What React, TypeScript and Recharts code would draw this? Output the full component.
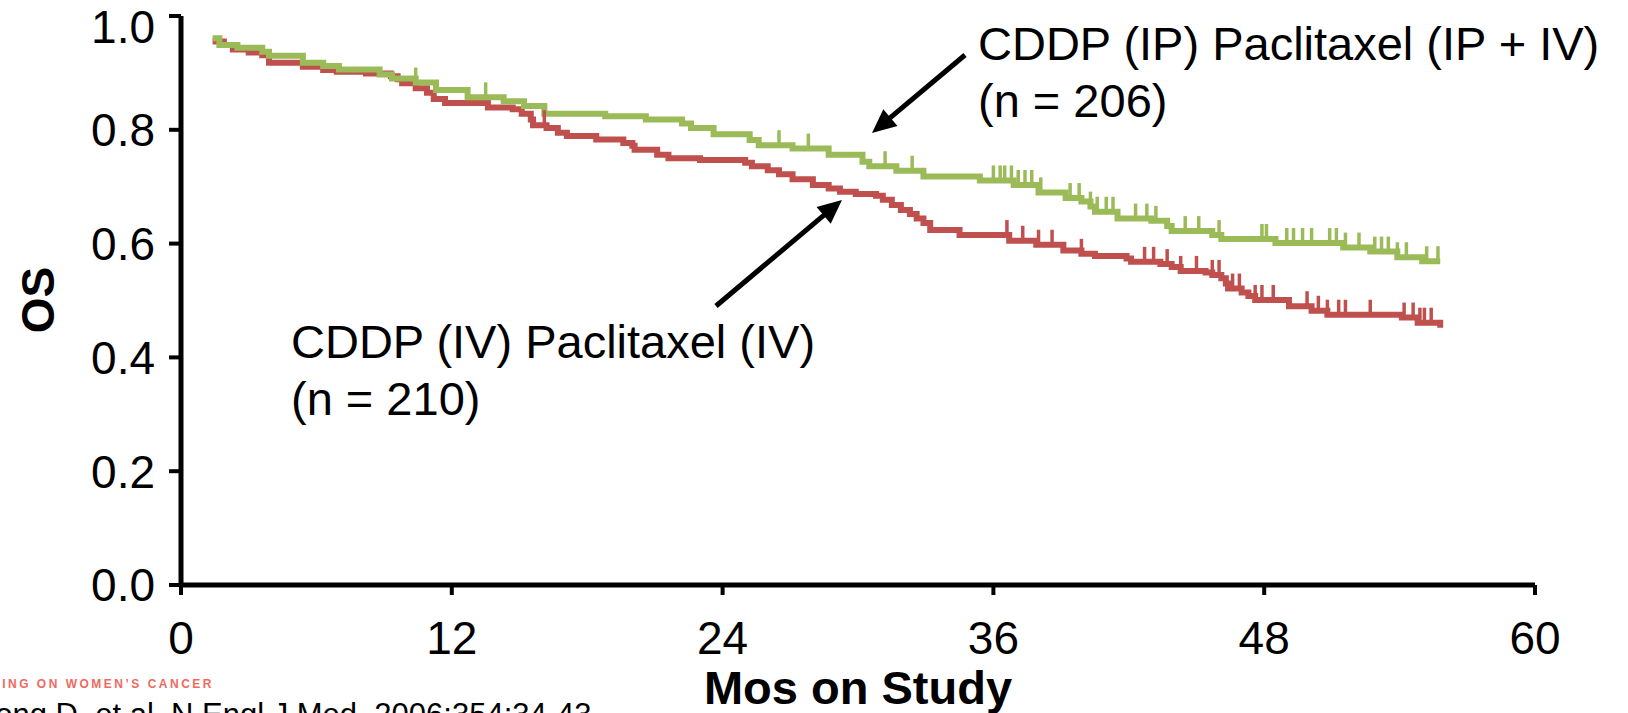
import React from "react";
import { ComposedChart, Line, Scatter, XAxis, YAxis } from "recharts";

// CDDP (IP) Paclitaxel (IP + IV), n = 206
const ipMonths = [1.4, 1.7, 2.5, 3.6, 3.9, 5.4, 6.3, 7.0, 8.8, 9.35, 10.4, 11.3, 12.7, 14.3, 15.2, 16.1, 18.8, 20.6, 22.2, 22.6, 23.6, 25.2, 25.6, 27.1, 28.7, 30.2, 30.5, 31.7, 32.9, 35.4, 36.9, 38.0, 39.2, 39.9, 40.3, 40.5, 41.5, 43.0, 43.7, 43.9, 45.7, 46.1, 48.5, 51.5, 52.7, 53.9, 55.0, 55.8];
const ipSurvival = [0.961, 0.949, 0.944, 0.937, 0.93, 0.918, 0.912, 0.906, 0.897, 0.89, 0.883, 0.87, 0.857, 0.85, 0.842, 0.828, 0.824, 0.818, 0.811, 0.803, 0.792, 0.782, 0.773, 0.767, 0.756, 0.744, 0.736, 0.728, 0.718, 0.711, 0.703, 0.69, 0.68, 0.674, 0.665, 0.656, 0.644, 0.64, 0.631, 0.622, 0.615, 0.608, 0.601, 0.593, 0.586, 0.576, 0.569, 0.569];
const ipCensored = [10.4, 13.5, 26.5, 27.8, 31.2, 32.4, 36.0, 36.3, 36.5, 36.8, 37.1, 37.4, 37.7, 38.1, 39.4, 39.8, 40.3, 40.6, 41.0, 41.3, 42.3, 42.8, 43.2, 44.5, 45.1, 46.0, 47.9, 48.1, 49.0, 49.3, 49.7, 50.1, 50.9, 51.2, 51.6, 52.2, 52.9, 53.2, 53.5, 53.9, 54.3, 55.2, 55.7];

// CDDP (IV) Paclitaxel (IV), n = 210
const ivMonths = [1.4, 1.9, 2.3, 3.0, 3.6, 3.9, 5.4, 6.3, 6.9, 8.2, 9.3, 9.6, 9.8, 10.4, 10.9, 11.2, 11.7, 13.6, 14.7, 15.1, 15.5, 15.6, 16.2, 16.7, 17.1, 18.4, 19.6, 20.0, 20.1, 21.1, 21.6, 23.0, 25.0, 25.3, 26.0, 26.5, 27.1, 28.0, 28.7, 29.2, 29.9, 30.8, 31.1, 31.5, 31.9, 32.3, 32.6, 32.9, 33.2, 34.5, 36.7, 37.9, 39.1, 39.9, 40.5, 41.9, 42.1, 43.4, 43.9, 44.3, 45.4, 45.7, 46.1, 46.3, 46.4, 47.0, 47.3, 47.6, 49.1, 50.1, 50.8, 54.1, 54.8, 55.8];
const ivSurvival = [0.955, 0.949, 0.941, 0.936, 0.931, 0.918, 0.911, 0.905, 0.902, 0.899, 0.894, 0.889, 0.882, 0.873, 0.865, 0.854, 0.847, 0.839, 0.836, 0.828, 0.818, 0.808, 0.803, 0.795, 0.789, 0.783, 0.777, 0.772, 0.765, 0.756, 0.75, 0.747, 0.742, 0.736, 0.729, 0.722, 0.713, 0.703, 0.697, 0.691, 0.687, 0.684, 0.677, 0.668, 0.659, 0.652, 0.644, 0.636, 0.624, 0.615, 0.605, 0.598, 0.588, 0.582, 0.578, 0.574, 0.568, 0.564, 0.559, 0.552, 0.549, 0.545, 0.539, 0.53, 0.521, 0.514, 0.508, 0.501, 0.49, 0.482, 0.475, 0.47, 0.461, 0.452];
const ivCensored = [16.1, 36.6, 37.3, 38.0, 38.6, 39.9, 42.7, 43.1, 43.7, 44.3, 45.0, 45.7, 46.0, 46.6, 46.9, 47.6, 47.9, 48.4, 49.9, 50.4, 50.8, 51.3, 51.6, 52.7, 54.2, 54.6, 54.9, 55.1, 55.4];

const xTicks = [0, 12, 24, 36, 48, 60];
const yTicks = [0, 0.2, 0.4, 0.6, 0.8, 1.0];

const GREEN = "#9BBB59";
const RED = "#C0504D";
const FONT = '"Liberation Sans", Arial, sans-serif';

const toRows = (months: number[], surv: number[]) =>
  months.map((m, i) => ({ month: m, os: surv[i] }));

// value of the KM step curve at a given month
const stepAt = (months: number[], surv: number[], m: number) => {
  let v = surv[0];
  for (let i = 0; i < months.length; i++) if (months[i] <= m) v = surv[i];
  return v;
};

const ipData = toRows(ipMonths, ipSurvival);
const ivData = toRows(ivMonths, ivSurvival);
const ipCensorData = ipCensored.map((m) => ({ month: m, os: stepAt(ipMonths, ipSurvival, m) }));
const ivCensorData = ivCensored.map((m) => ({ month: m, os: stepAt(ivMonths, ivSurvival, m) }));

const censorMark = (color: string) => (props: any) => {
  const { cx, cy } = props;
  if (cx == null || cy == null) return <g />;
  return <line x1={cx} x2={cx} y1={cy} y2={cy - 15} stroke={color} strokeWidth={3.5} />;
};

function Arrow({ x1, y1, x2, y2 }: { x1: number; y1: number; x2: number; y2: number }) {
  const dx = x2 - x1;
  const dy = y2 - y1;
  const len = Math.sqrt(dx * dx + dy * dy);
  const ux = dx / len;
  const uy = dy / len;
  const head = 24;
  const half = 11;
  const bx = x2 - ux * head;
  const by = y2 - uy * head;
  return (
    <g>
      <line x1={x1} y1={y1} x2={bx + ux * 2} y2={by + uy * 2} stroke="#000" strokeWidth={5} />
      <polygon
        points={`${x2},${y2} ${bx - uy * half},${by + ux * half} ${bx + uy * half},${by - ux * half}`}
        fill="#000"
      />
    </g>
  );
}

export default function App() {
  return (
    <div style={{ position: "absolute", left: 0, top: 0, width: 1628, height: 713, overflow: "hidden", background: "#fff" }}>
      <ComposedChart width={1628} height={713} margin={{ top: 16, right: 93, left: 0, bottom: 0 }}>
        <XAxis
          dataKey="month"
          type="number"
          domain={[0, 60]}
          ticks={xTicks}
          height={128}
          axisLine={{ stroke: "#000", strokeWidth: 5 }}
          tickLine={{ stroke: "#000", strokeWidth: 4 }}
          tickSize={10}
          tickMargin={26}
          tick={{ fill: "#000", fontSize: 46, fontFamily: FONT }}
          allowDuplicatedCategory={false}
        />
        <YAxis
          dataKey="os"
          type="number"
          domain={[0, 1]}
          ticks={yTicks}
          width={181}
          axisLine={{ stroke: "#000", strokeWidth: 5 }}
          tickLine={{ stroke: "#000", strokeWidth: 4 }}
          tickSize={12}
          tickMargin={14}
          tickFormatter={(v: number) => v.toFixed(1)}
          tick={{ fill: "#000", fontSize: 46, fontFamily: FONT }}
        />
        <Line
          data={ivData}
          dataKey="os"
          type="stepAfter"
          stroke={RED}
          strokeWidth={6}
          dot={false}
          isAnimationActive={false}
        />
        <Scatter data={ivCensorData} dataKey="os" shape={censorMark(RED)} isAnimationActive={false} />
        <Line
          data={ipData}
          dataKey="os"
          type="stepAfter"
          stroke={GREEN}
          strokeWidth={6}
          dot={false}
          isAnimationActive={false}
        />
        <Scatter data={ipCensorData} dataKey="os" shape={censorMark(GREEN)} isAnimationActive={false} />
      </ComposedChart>

      <svg width={1628} height={713} style={{ position: "absolute", left: 0, top: 0, pointerEvents: "none" }}>
        <text x={54} y={300} transform="rotate(-90, 54, 300)" textAnchor="middle" fontFamily={FONT} fontWeight="bold" fontSize={46} fill="#000">
          OS
        </text>
        <text x={858} y={704} textAnchor="middle" fontFamily={FONT} fontWeight="bold" fontSize={47} fill="#000">
          Mos on Study
        </text>

        <text x={978} y={60} fontFamily={FONT} fontSize={47} fill="#000">CDDP (IP) Paclitaxel (IP + IV)</text>
        <text x={978} y={117} fontFamily={FONT} fontSize={47} fill="#000">(n = 206)</text>
        <text x={291} y={358} fontFamily={FONT} fontSize={47} fill="#000">CDDP (IV) Paclitaxel (IV)</text>
        <text x={291} y={415} fontFamily={FONT} fontSize={47} fill="#000">(n = 210)</text>

        <Arrow x1={965} y1={55} x2={872} y2={133} />
        <Arrow x1={716} y1={306} x2={842} y2={200} />

        <text x={214} y={688} textAnchor="end" fontFamily={FONT} fontWeight="bold" fontSize={12} letterSpacing={2.5} fill="#EE6A5E">
          MEETING ON WOMEN’S CANCER
        </text>
        <text x={-96} y={725} fontFamily={FONT} fontSize={31} fill="#000">
          Armstrong D, et al. N Engl J Med. 2006;354:34-43.
        </text>
      </svg>
    </div>
  );
}
